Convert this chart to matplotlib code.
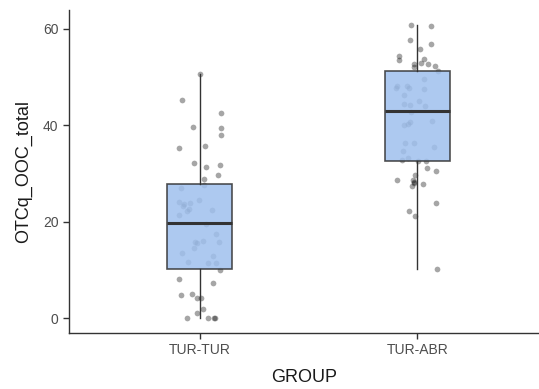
import matplotlib
matplotlib.use("Agg")
import matplotlib.pyplot as plt

plt.rcParams['font.family'] = ['Liberation Sans', 'DejaVu Sans']

groups = ['TUR-TUR', 'TUR-ABR']

tur_tur = [50.6, 45.2, 42.5, 39.6, 39.4, 37.9, 35.3, 35.7, 32.1, 31.4, 31.8, 29.6,
           28.9, 27.7, 27.0, 24.0, 23.6, 23.2, 23.9, 22.3, 22.7, 21.3, 24.6, 22.5,
           19.6, 17.5, 15.8, 15.6, 16.1, 14.6, 15.7, 13.5, 13.0, 11.6, 11.4, 11.4,
           10.1, 8.1, 7.3, 4.9, 5.1, 4.2, 4.2, 2.0, 1.2, 0.0, 0.0, 0.0, 0.0]
tur_tur_jit = [0.002, -0.079, 0.097, -0.030, 0.097, 0.097, -0.094, 0.024, -0.027, 0.028, 0.094, 0.086,
               0.021, 0.022, -0.086, -0.097, -0.074, -0.077, -0.044, -0.059, -0.047, -0.097, -0.001, 0.056,
               0.030, 0.076, -0.021, -0.013, 0.017, -0.024, 0.089, -0.080, 0.059, -0.054, 0.038, 0.077,
               0.095, -0.097, 0.059, -0.086, -0.033, -0.013, 0.006, 0.015, -0.011, -0.059, 0.040, 0.067, 0.069]

tur_abr = [60.8, 60.6, 57.7, 56.8, 55.7, 54.4, 53.5, 53.7, 52.9, 52.6, 52.0, 52.7,
           52.3, 51.3, 49.5, 48.1, 47.7, 48.2, 47.6, 47.5, 46.2, 45.0, 44.3, 44.1,
           43.9, 42.7, 40.9, 40.6, 40.3, 40.0, 36.4, 36.4, 35.5, 34.6, 33.2, 32.7,
           32.6, 32.6, 31.2, 30.5, 29.7, 28.6, 28.6, 28.3, 28.0, 27.8, 27.4, 23.9,
           22.3, 21.1, 10.2]
tur_abr_jit = [-0.032, 0.061, -0.035, 0.064, 0.012, -0.084, -0.083, 0.030, 0.015, -0.016, -0.016, 0.049,
               0.079, 0.092, 0.030, -0.092, -0.100, -0.049, -0.041, 0.030, -0.064, 0.007, -0.061, -0.034,
               0.035, -0.031, 0.067, -0.034, -0.043, -0.064, -0.057, -0.018, 0.076, -0.066, -0.043, -0.069,
               0.003, 0.039, 0.043, 0.084, -0.011, -0.095, -0.020, -0.016, -0.018, 0.026, -0.023, 0.084,
               -0.040, -0.011, 0.089]

# box summary as drawn
q1 = [10.3, 32.6]
med = [19.8, 42.9]
q3 = [27.9, 51.2]
whislo = [0.0, 10.2]
whishi = [50.6, 60.8]

fig = plt.figure(figsize=(5.39, 3.89), dpi=100)
ax = fig.add_axes([69/539, 56/389, 470/539, 323/389])

# jittered points (under the semi-transparent boxes)
for i, (vals, jit) in enumerate([(tur_tur, tur_tur_jit), (tur_abr, tur_abr_jit)]):
    ax.scatter([i + 1 + j for j in jit], vals, s=17, color='black', alpha=0.35,
               linewidths=0, zorder=1)

stats = [dict(label=g, q1=q1[i], med=med[i], q3=q3[i], whislo=whislo[i], whishi=whishi[i], fliers=[])
         for i, g in enumerate(groups)]
ax.bxp(stats, positions=[1, 2], widths=0.3, patch_artist=True, showcaps=False,
       boxprops=dict(facecolor='#9fc0ee', alpha=0.85, edgecolor='#333333', linewidth=1.2),
       medianprops=dict(color='#333333', linewidth=2.2),
       whiskerprops=dict(color='#333333', linewidth=1.0),
       zorder=2)

ax.set_xlim(0.4, 2.558)
ax.set_ylim(-3.04, 63.84)
ax.set_yticks([0, 20, 40, 60])
ax.set_xticks([1, 2])
ax.set_xticklabels(groups)

for s in ['top', 'right']:
    ax.spines[s].set_visible(False)
for s in ['left', 'bottom']:
    ax.spines[s].set_color('#333333')
    ax.spines[s].set_linewidth(1.0)
ax.tick_params(colors='#333333', labelcolor='#4d4d4d', labelsize=10, length=4, width=1.0)

ax.set_xlabel('GROUP', fontsize=13, color='#1a1a1a', labelpad=8)
ax.set_ylabel('OTCq_OOC_total', fontsize=13, color='#1a1a1a', labelpad=8)

fig.savefig('out.png', dpi=100)
